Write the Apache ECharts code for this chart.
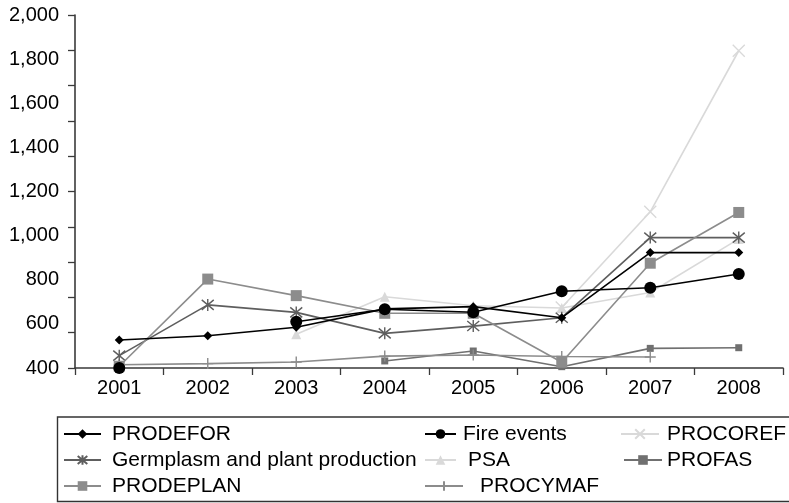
<!DOCTYPE html>
<html>
<head>
<meta charset="utf-8">
<script src="https://cdn.jsdelivr.net/npm/echarts@6/dist/echarts.min.js"></script>
<style>html,body{margin:0;padding:0;background:#fff}#c{width:789px;height:503px}</style>
</head>
<body>
<div id="c"></div>
<script>
const years = ['2001', '2002', '2003', '2004', '2005', '2006', '2007', '2008'];
const prodefor   = [527, 546, 585, 668, 678, 628, 923, 923];
const fireEvents = [400, null, 610, 666, 653, 748, 764, 826];
const procoref   = [null, null, null, null, null, 674, 1108, 1838];
const germplasm  = [456, 686, 652, 557, 590, 628, 991, 991];
const psa        = [null, null, 553, 723, 682, 672, 742, 985];
const profas     = [null, null, null, 432, 477, 406, 489, 492];
const prodeplan  = [408, 803, 728, 648, 648, 426, 875, 1105];
const procymaf   = [415, 420, 427, 454, 459, 452, 450, null];
const yMin = 400, yMax = 2000, yLabelStep = 200;

const FONT = 'Liberation Sans, Arial, Helvetica, sans-serif';
const X_PATH = 'path://M0,0L10,10M10,0L0,10';
const AST_PATH = 'path://M0,0L10,10M10,0L0,10M5,-1L5,11';
const PLUS_PATH = 'path://M0,5L10,5M5,0L5,10';

function mk(name, data, color, symbol, size, z, stroke) {
  return {
    name, type: 'line', data, symbol, symbolSize: size, z: z,
    clip: false, connectNulls: false,
    lineStyle: { color, width: 1.6 },
    itemStyle: stroke ? { color, borderColor: color, borderWidth: 1.4 } : { color, borderWidth: 0 },
    emphasis: { disabled: true },
    animation: false
  };
}

const series = [
  mk('PRODEFOR', prodefor, '#000000', 'diamond', 9, 8, false),
  mk('Fire events', fireEvents, '#000000', 'circle', 12, 9, false),
  mk('PROCOREF', procoref, '#d9d9d9', X_PATH, 12, 2, true),
  mk('Germplasm and plant production', germplasm, '#5e5e5e', AST_PATH, 12, 5, true),
  mk('PSA', psa, '#d9d9d9', 'triangle', 10, 3, false),
  mk('PROFAS', profas, '#707070', 'rect', 7, 4, false),
  mk('PRODEPLAN', prodeplan, '#8c8c8c', 'rect', 11, 6, false),
  mk('PROCYMAF', procymaf, '#8c8c8c', PLUS_PATH, 11, 4, true)
];

function leg(name, left, centerY, iw, gap) {
  return {
    data: [name], left: left, top: centerY - 11, orient: 'horizontal',
    padding: 0, itemWidth: iw, itemHeight: 12, selectedMode: false,
    textStyle: { fontFamily: FONT, fontSize: 21, color: '#000', lineHeight: 22, padding: [0, 0, 0, gap - 5] }
  };
}

const legends = [
  leg('PRODEFOR', 63, 434, 37, 11),
  leg('Germplasm and plant production', 63, 460, 37, 11),
  leg('PRODEPLAN', 63, 486, 37, 11),
  leg('Fire events', 424, 434, 31, 7),
  leg('PSA', 424, 460, 31, 12),
  leg('PROCYMAF', 424, 486, 38, 17),
  leg('PROCOREF', 620, 434, 38, 8),
  leg('PROFAS', 623, 460, 38, 5)
];

const chart = echarts.init(document.getElementById('c'), null, { renderer: 'canvas' });
chart.setOption({
  animation: false,
  backgroundColor: '#fff',
  grid: { left: 75, right: 6, top: 15, bottom: 135, containLabel: false },
  legend: legends,
  xAxis: {
    type: 'category', data: years, boundaryGap: true,
    axisLine: { lineStyle: { color: '#3a3a3a', width: 1.6 } },
    axisTick: { show: true, length: 7, lineStyle: { color: '#3a3a3a', width: 1.3 } },
    axisLabel: { fontFamily: FONT, fontSize: 20, color: '#000', margin: 10 },
    splitLine: { show: false }
  },
  yAxis: [
    {
      type: 'value', min: yMin, max: yMax, interval: yLabelStep, position: 'left',
      axisLine: { show: true, lineStyle: { color: '#3a3a3a', width: 1.6 } },
      axisTick: { show: false },
      axisLabel: { fontFamily: FONT, fontSize: 20, color: '#000', margin: 16,
        formatter: v => v.toLocaleString('en-US') },
      splitLine: { show: false }
    },
    {
      type: 'value', min: 0, max: 10, interval: 1, position: 'left',
      axisLine: { show: false },
      axisTick: { show: true, length: 7, lineStyle: { color: '#3a3a3a', width: 1.3 } },
      axisLabel: { show: false },
      splitLine: { show: false }
    }
  ],
  graphic: [{
    type: 'rect', silent: true, z: -1,
    shape: { x: 57.5, y: 417, width: 740, height: 84.5 },
    style: { fill: 'none', stroke: '#333', lineWidth: 1.4 }
  }],
  series: series
});
</script>
</body>
</html>
